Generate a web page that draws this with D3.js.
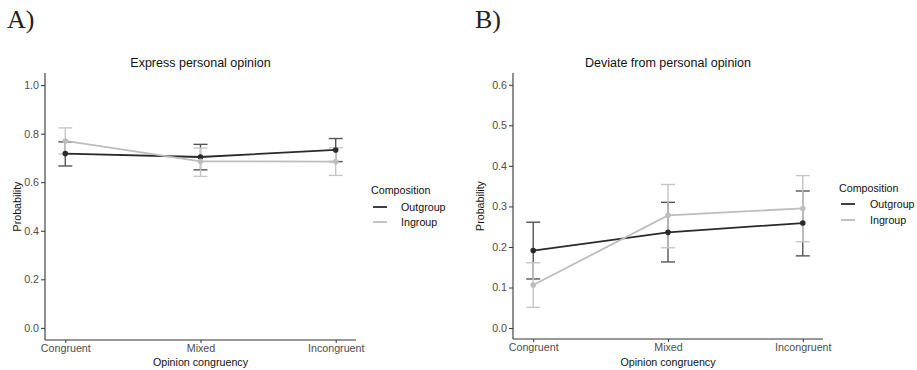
<!DOCTYPE html>
<html>
<head>
<meta charset="utf-8">
<script src="https://cdn.jsdelivr.net/npm/d3@7"></script>
<style>
  html, body { margin: 0; padding: 0; background: #fff; }
  svg { display: block; }
  text { font-family: "Liberation Sans", Arial, sans-serif; }
</style>
</head>
<body>
<svg id="chart" width="917" height="370"></svg>
<script>
// Categories and groups
const categories = ["Congruent", "Mixed", "Incongruent"];
const groups = ["Outgroup", "Ingroup"];

// Panel A: Express personal opinion (estimate, lower, upper)
const expressOutgroup = [0.718, 0.704, 0.733];
const expressOutgroupLo = [0.667, 0.651, 0.685];
const expressOutgroupHi = [0.766, 0.756, 0.780];
const expressIngroup = [0.770, 0.686, 0.685];
const expressIngroupLo = [0.716, 0.624, 0.628];
const expressIngroupHi = [0.824, 0.741, 0.742];

// Panel B: Deviate from personal opinion
const deviateOutgroup = [0.191, 0.236, 0.259];
const deviateOutgroupLo = [0.121, 0.163, 0.178];
const deviateOutgroupHi = [0.261, 0.310, 0.338];
const deviateIngroup = [0.106, 0.278, 0.295];
const deviateIngroupLo = [0.051, 0.198, 0.213];
const deviateIngroupHi = [0.161, 0.354, 0.376];

const ticksA = [0, 0.2, 0.4, 0.6, 0.8, 1.0];
const ticksB = [0, 0.1, 0.2, 0.3, 0.4, 0.5, 0.6];

const lineColor = { Outgroup: "#2a2a2a", Ingroup: "#bdbdbd" };
const barColor = { Outgroup: "#555555", Ingroup: "#c6c6c6" };

const svg = d3.select("#chart");

function panel(cfg) {
  const g = svg.append("g");
  const x = d3.scalePoint().domain(categories).range([cfg.x0, cfg.x1]).padding(0.15);
  const y = d3.scaleLinear().domain(cfg.yDomain).range([cfg.y1, cfg.y0]);

  // Axes
  const yAxis = g.append("g").attr("transform", `translate(${cfg.x0},0)`)
    .call(d3.axisLeft(y).tickValues(cfg.ticks).tickFormat(d3.format(".1f")).tickSize(4).tickPadding(2));
  const xAxis = g.append("g").attr("transform", `translate(0,${cfg.y1})`)
    .call(d3.axisBottom(x).tickSize(3).tickPadding(1.5));
  [yAxis, xAxis].forEach(a => {
    a.select(".domain").remove();
    a.selectAll(".tick line").attr("stroke", "#333").attr("stroke-width", 1);
    a.selectAll(".tick text").attr("fill", "#4d4d4d").style("font-size", "10.7px")
      .style("font-family", "Liberation Sans, Arial, sans-serif");
  });
  g.append("line").attr("x1", cfg.x0).attr("x2", cfg.x0).attr("y1", cfg.y0).attr("y2", cfg.y1)
    .attr("stroke", "#333").attr("stroke-width", 1.1);
  g.append("line").attr("x1", cfg.x0).attr("x2", cfg.x1).attr("y1", cfg.y1).attr("y2", cfg.y1)
    .attr("stroke", "#333").attr("stroke-width", 1.1);

  // Titles
  const cx = (cfg.x0 + cfg.x1) / 2;
  g.append("text").attr("x", cx).attr("y", 67).attr("text-anchor", "middle")
    .style("font-size", "12.5px").attr("fill", "#111").text(cfg.title);
  g.append("text").attr("x", cx).attr("y", 366).attr("text-anchor", "middle")
    .style("font-size", "10.7px").attr("fill", "#111").text("Opinion congruency");
  g.append("text").attr("transform", `translate(${cfg.yTitleX},${(cfg.y0 + cfg.y1) / 2}) rotate(-90)`)
    .attr("text-anchor", "middle").style("font-size", "10.7px").attr("fill", "#111").text("Probability");
  g.append("text").attr("x", cfg.tagX).attr("y", 28)
    .style("font-family", "Liberation Serif, DejaVu Serif, serif").style("font-size", "26px")
    .attr("fill", "#222").text(cfg.tag);

  // Series: error bars, lines, points
  const series = groups.map(gr => ({
    name: gr,
    pts: categories.map((c, i) => ({ c, v: cfg.data[gr].est[i], lo: cfg.data[gr].lo[i], hi: cfg.data[gr].hi[i] }))
  }));
  const cap = 7;
  series.forEach(s => {
    const eb = g.append("g").attr("stroke", barColor[s.name]).attr("stroke-width", 1.4).attr("fill", "none");
    s.pts.forEach(p => {
      const px = x(p.c);
      eb.append("line").attr("x1", px).attr("x2", px).attr("y1", y(p.lo)).attr("y2", y(p.hi));
      eb.append("line").attr("x1", px - cap).attr("x2", px + cap).attr("y1", y(p.lo)).attr("y2", y(p.lo));
      eb.append("line").attr("x1", px - cap).attr("x2", px + cap).attr("y1", y(p.hi)).attr("y2", y(p.hi));
    });
  });
  series.forEach(s => {
    g.append("path").datum(s.pts)
      .attr("d", d3.line().x(p => x(p.c)).y(p => y(p.v)))
      .attr("fill", "none").attr("stroke", lineColor[s.name]).attr("stroke-width", 1.8);
    g.selectAll(null).data(s.pts).enter().append("circle")
      .attr("cx", p => x(p.c)).attr("cy", p => y(p.v)).attr("r", 2.8)
      .attr("fill", lineColor[s.name]);
  });

  // Legend
  const lg = g.append("g").attr("transform", `translate(${cfg.legX},${cfg.legY})`);
  lg.append("text").attr("x", 0).attr("y", cfg.legTitleY).style("font-size", "10.7px").attr("fill", "#111").text("Composition");
  groups.forEach((gr, i) => {
    const ly = cfg.legKeyY + i * cfg.legStep;
    lg.append("line").attr("x1", 2).attr("x2", 16).attr("y1", ly).attr("y2", ly)
      .attr("stroke", lineColor[gr]).attr("stroke-width", 1.8);
    lg.append("text").attr("x", cfg.legTextDx).attr("y", ly + 4).style("font-size", "10.7px").attr("fill", "#111").text(gr);
  });
}

panel({
  tag: "A)", tagX: 7, title: "Express personal opinion",
  x0: 45, x1: 356, y0: 73, y1: 340, yDomain: [-0.05, 1.05], ticks: ticksA, yTitleX: 21,
  legX: 371, legY: 187, legTitleY: 7, legKeyY: 20, legStep: 15, legTextDx: 30,
  data: {
    Outgroup: { est: expressOutgroup, lo: expressOutgroupLo, hi: expressOutgroupHi },
    Ingroup: { est: expressIngroup, lo: expressIngroupLo, hi: expressIngroupHi }
  }
});

panel({
  tag: "B)", tagX: 475, title: "Deviate from personal opinion",
  x0: 513, x1: 823, y0: 73, y1: 339, yDomain: [-0.027, 0.629], ticks: ticksB, yTitleX: 484,
  legX: 839, legY: 185, legTitleY: 7, legKeyY: 19, legStep: 16, legTextDx: 31,
  data: {
    Outgroup: { est: deviateOutgroup, lo: deviateOutgroupLo, hi: deviateOutgroupHi },
    Ingroup: { est: deviateIngroup, lo: deviateIngroupLo, hi: deviateIngroupHi }
  }
});
</script>
</body>
</html>
